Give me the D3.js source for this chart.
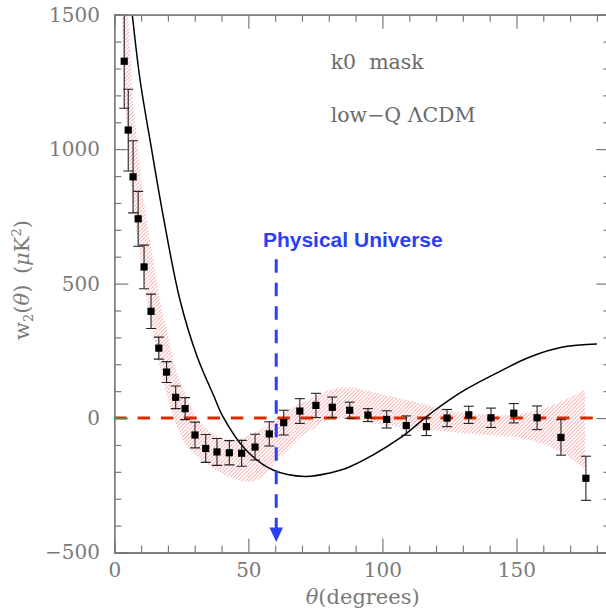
<!DOCTYPE html>
<html><head><meta charset="utf-8">
<script src="https://cdn.jsdelivr.net/npm/d3@7"></script>
<style>body{margin:0;background:#fff}svg{display:block}</style>
</head><body>
<svg id="c" width="606" height="616"></svg>
<script>
// ---- data ----
const thetaData = [3.7,5.2,7.0,8.9,11.1,13.7,16.6,19.5,22.9,26.4,30.1,34.1,38.3,42.9,47.5,52.5,57.8,63.2,69.2,75.2,81.3,87.8,94.6,101.6,108.9,116.4,124.1,132.2,140.5,149.0,157.7,166.6,175.9];
const wData     = [1327,1071,897,741,562,397,260,171,77,35,-63,-113,-126,-129,-131,-108,-59,-17,26,47,40,29,11,-5,-28,-32,0,12,1,18,1,-72,-224];
const wErr      = [175,152,134,102,81,64,41,39,42,41,48,52,50,45,48,48,45,46,46,45,38,30,24,32,36,33,32,32,36,36,44,66,82];

const thetaModel = [5.5,6.71,9.58,13.95,18.28,24.5,30.85,37.56,40.36,49.1,59.2,71.1,80.4,87.9,106.5,117.7,130,144.9,155,167.3,180];
const wModel     = [1620,1500,1260,997,749,439,230,72,8,-119,-193,-217,-204,-181,-75,15,100,179,227,264,275];

const bandTheta = [3,4,5,6,7,8,9,10,12,14,17,20,23,26,30,35,40,45,50,55,60,65,70,75,80,88,95,105,115,125,135,145,155,162,168,175.6];
const bandHigh  = [1800,1740,1540,1350,1172,1077,982,887,739,619,439,306,180,101,15,-45,-72,-80,-65,-40,-5,32,55,80,103,115,100,77,53,28,15,10,22,42,68,104];
const bandLow   = [1447,1182,1034,886,778,712,646,580,446,342,191,72,-22,-90,-136,-175,-205,-227,-237,-220,-165,-115,-66,-35,-5,0,-16,-32,-42,-52,-60,-67,-82,-105,-135,-193];

const xMajorTicks = [0,50,100,150];
const yMajorTicks = [-500,0,500,1000,1500];
const zeroLine = [0,180];
const markerTheta = 60.4;
const labelLines = ["k0  mask","low\u2212Q \u039BCDM"];
const markerLabel = "Physical Universe";

// ---- layout ----
const x = d3.scaleLinear().domain([0,185]).range([114.3,610.3]);
const y = d3.scaleLinear().domain([-500,1500]).range([552.5,14.7]);
const svg = d3.select("#c");
const grey = "#7a7a7a";
const serif = "'DejaVu Serif', serif";

const defs = svg.append("defs");
defs.append("clipPath").attr("id","plot").append("rect")
  .attr("x",x(0)).attr("y",y(1500)).attr("width",x(185)-x(0)).attr("height",y(-500)-y(1500));
const pat = defs.append("pattern").attr("id","hatch").attr("patternUnits","userSpaceOnUse")
  .attr("width",2.7).attr("height",2.7).attr("patternTransform","rotate(45)");
pat.append("line").attr("x1",0).attr("y1",0).attr("x2",0).attr("y2",2.7)
  .attr("stroke","#ec4a4a").attr("stroke-width",0.9).attr("stroke-opacity",0.9);

const plot = svg.append("g").attr("clip-path","url(#plot)");

// hatched band
const band = bandTheta.map((t,i)=>({t, lo: bandLow[i], hi: bandHigh[i]}));
plot.append("path").datum(band)
  .attr("d", d3.area().x(d=>x(d.t)).y0(d=>y(d.lo)).y1(d=>y(d.hi)).curve(d3.curveMonotoneX))
  .attr("fill","url(#hatch)").attr("stroke","none");

// zero dashed line
plot.append("line").attr("x1",x(zeroLine[0])).attr("x2",x(zeroLine[1]))
  .attr("y1",y(0)).attr("y2",y(0))
  .attr("stroke","#dd2a00").attr("stroke-width",3).attr("stroke-dasharray","12.5,10.8");

// model curve
const model = thetaModel.map((t,i)=>({t, w: wModel[i]}));
plot.append("path").datum(model)
  .attr("d", d3.line().x(d=>x(d.t)).y(d=>y(d.w)).curve(d3.curveCatmullRom.alpha(0.5)))
  .attr("fill","none").attr("stroke","#000").attr("stroke-width",1.5);

// data with error bars
const pts = thetaData.map((t,i)=>({t, w: wData[i], e: wErr[i]}));
const eb = plot.append("g").attr("stroke","#222").attr("stroke-width",1.1);
pts.forEach(d=>{
  const cx = x(d.t), y1 = y(d.w+d.e), y2 = y(d.w-d.e);
  eb.append("line").attr("x1",cx).attr("x2",cx).attr("y1",y1).attr("y2",y2);
  eb.append("line").attr("x1",cx-5).attr("x2",cx+5).attr("y1",y1).attr("y2",y1);
  eb.append("line").attr("x1",cx-5).attr("x2",cx+5).attr("y1",y2).attr("y2",y2);
});
plot.append("g").selectAll("rect").data(pts).join("rect")
  .attr("x",d=>x(d.t)-3.6).attr("y",d=>y(d.w)-3.6).attr("width",7.2).attr("height",7.2)
  .attr("fill","#000");

// blue marker
const blue = "#2a40f2";
const mx = x(markerTheta);
svg.append("line").attr("x1",mx).attr("x2",mx).attr("y1",259.3).attr("y2",528)
  .attr("stroke",blue).attr("stroke-width",3).attr("stroke-dasharray","13.5,10");
svg.append("path").attr("d",`M${mx-6.8},527.5L${mx+6.8},527.5L${mx},542Z`).attr("fill",blue);
svg.append("text").attr("x",352.8).attr("y",247.3).attr("text-anchor","middle")
  .attr("font-family","'Liberation Sans', Arial, sans-serif").attr("font-weight","bold")
  .attr("font-size",21).attr("fill",blue).text(markerLabel);

// axes
function styleAxis(g){
  g.select(".domain").attr("stroke",grey).attr("stroke-width",1.3);
  g.selectAll(".tick line").attr("stroke",grey).attr("stroke-width",1.2);
  g.selectAll("text").attr("fill",grey).attr("font-family",serif).attr("font-size",20);
}
const xMinor = d3.range(0,185,10).filter(v=>v%50!==0);
const yMinor = d3.range(-500,1501,100).filter(v=>v%500!==0);

svg.append("g").attr("transform",`translate(0,${y(-500)})`)
  .call(d3.axisBottom(x).tickValues(xMajorTicks).tickSize(-14).tickPadding(10).tickFormat(d3.format("d")))
  .call(styleAxis);
svg.append("g").attr("transform",`translate(0,${y(-500)})`)
  .call(d3.axisBottom(x).tickValues(xMinor).tickSize(-7).tickFormat(""))
  .call(styleAxis);
svg.append("g").attr("transform",`translate(0,${y(1500)})`)
  .call(d3.axisTop(x).tickValues(xMajorTicks).tickSize(-14).tickFormat(""))
  .call(styleAxis);
svg.append("g").attr("transform",`translate(0,${y(1500)})`)
  .call(d3.axisTop(x).tickValues(xMinor).tickSize(-7).tickFormat(""))
  .call(styleAxis);
svg.append("g").attr("transform",`translate(${x(0)},0)`)
  .call(d3.axisLeft(y).tickValues(yMajorTicks).tickSize(-14).tickPadding(14.3).tickFormat(d3.format("d")))
  .call(styleAxis);
svg.append("g").attr("transform",`translate(${x(0)},0)`)
  .call(d3.axisLeft(y).tickValues(yMinor).tickSize(-7).tickFormat(""))
  .call(styleAxis);
svg.append("g").attr("transform",`translate(${x(185)},0)`)
  .call(d3.axisRight(y).tickValues(yMajorTicks).tickSize(-14).tickFormat(""))
  .call(styleAxis);
svg.append("g").attr("transform",`translate(${x(185)},0)`)
  .call(d3.axisRight(y).tickValues(yMinor).tickSize(-7).tickFormat(""))
  .call(styleAxis);

// axis titles
const xt = svg.append("text").attr("x",362.7).attr("y",604).attr("text-anchor","middle")
  .attr("font-family",serif).attr("font-size",21).attr("fill",grey);
xt.append("tspan").attr("font-style","italic").text("\u03B8");
xt.append("tspan").text("(degrees)");

const yt = svg.append("text").attr("transform","translate(29,280) rotate(-90)")
  .attr("text-anchor","middle").attr("font-family",serif).attr("font-size",21).attr("fill",grey);
yt.append("tspan").text("w");
yt.append("tspan").attr("font-size",13).attr("dy",4).text("2");
yt.append("tspan").attr("dy",-4).text("(");
yt.append("tspan").attr("font-style","italic").text("\u03B8");
yt.append("tspan").text(")\u2002(");
yt.append("tspan").attr("font-style","italic").text("\u03BC");
yt.append("tspan").text("K");
yt.append("tspan").attr("font-size",13).attr("dy",-8).text("2");
yt.append("tspan").attr("dy",8).text(")");

// annotations
svg.append("text").attr("x",330.7).attr("y",69.3).attr("font-family",serif).attr("font-size",20.5)
  .attr("fill","#6a6a6a").style("white-space","pre").text(labelLines[0]);
svg.append("text").attr("x",330.7).attr("y",121.7).attr("font-family",serif).attr("font-size",20.5)
  .attr("fill","#6a6a6a").style("white-space","pre").text(labelLines[1]);
</script>
</body></html>
